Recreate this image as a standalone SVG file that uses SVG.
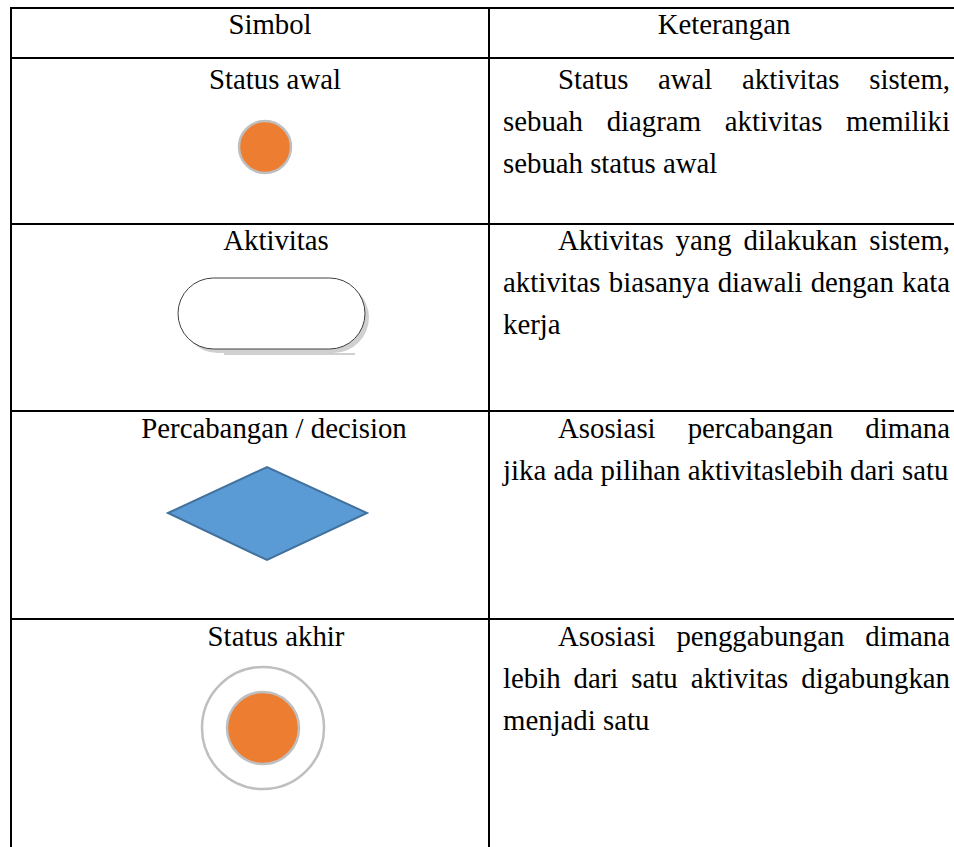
<svg xmlns="http://www.w3.org/2000/svg" width="954" height="847" viewBox="0 0 954 847">
  <style>
    .t { font-family: "Liberation Serif", "Times New Roman", serif; font-size: 28.8px; fill: #000; }
    .c { text-anchor: middle; }
    .e { text-anchor: end; }
    .grid { stroke: #000; stroke-width: 2; fill: none; }
  </style>
  <rect x="0" y="0" width="954" height="847" fill="#fff"/>

  <!-- table grid -->
  <g id="grid" class="grid">
    <line x1="10" y1="8" x2="954" y2="8"/>
    <line x1="10" y1="58" x2="954" y2="58"/>
    <line x1="10" y1="224" x2="954" y2="224"/>
    <line x1="10" y1="411" x2="954" y2="411"/>
    <line x1="10" y1="619" x2="954" y2="619"/>
    <line x1="11" y1="7" x2="11" y2="847"/>
    <line x1="489" y1="7" x2="489" y2="847"/>
  </g>

  <!-- header -->
  <g id="header">
    <text class="t c" x="270" y="34">Simbol</text>
    <text class="t c" x="724" y="34">Keterangan</text>
  </g>

  <!-- initial state -->
  <g id="status-awal">
    <text class="t c" x="275" y="89">Status awal</text>
    <circle cx="265" cy="147" r="26" fill="#ED7D31" stroke="#BFBFBF" stroke-width="2.5"/>
  </g>
  <g id="status-awal-desc" class="t">
    <text x="558" y="89">Status</text>
    <text x="658" y="89">awal</text>
    <text x="742" y="89">aktivitas</text>
    <text class="e" x="950" y="89">sistem,</text>
    <text x="503" y="131">sebuah</text>
    <text x="606.7" y="131">diagram</text>
    <text x="724.8" y="131">aktivitas</text>
    <text class="e" x="950" y="131">memiliki</text>
    <text x="503" y="173">sebuah status awal</text>
  </g>

  <!-- activity (rounded box with soft drop shadow) -->
  <g id="aktivitas">
    <text class="t c" x="276" y="250">Aktivitas</text>
    <rect x="182" y="282" width="187" height="71" rx="35.5" fill="#D0D0D0"/>
    <line x1="224" y1="354" x2="355" y2="354" stroke="#D0D0D0" stroke-width="2"/>
    <rect x="178" y="278" width="187" height="71" rx="35.5" fill="#fff" stroke="#404040" stroke-width="1"/>
  </g>
  <g id="aktivitas-desc" class="t">
    <text x="558" y="250">Aktivitas</text>
    <text x="675.6" y="250">yang</text>
    <text x="743.6" y="250">dilakukan</text>
    <text class="e" x="950" y="250">sistem,</text>
    <text x="503" y="292">aktivitas</text>
    <text x="608.75" y="292">biasanya</text>
    <text x="717.7" y="292">diawali</text>
    <text x="810.65" y="292">dengan</text>
    <text class="e" x="950" y="292">kata</text>
    <text x="503" y="334">kerja</text>
  </g>

  <!-- decision -->
  <g id="decision">
    <text class="t c" x="274" y="438">Percabangan / decision</text>
    <polygon points="168,513 267,467 367,513 267,560" fill="#5B9BD5" stroke="#41719C" stroke-width="2"/>
  </g>
  <g id="decision-desc" class="t">
    <text x="558" y="438">Asosiasi</text>
    <text x="687.65" y="438">percabangan</text>
    <text class="e" x="950" y="438">dimana</text>
    <text x="503" y="480">jika ada pilihan aktivitaslebih dari satu</text>
  </g>

  <!-- final state -->
  <g id="status-akhir">
    <text class="t c" x="276" y="646">Status akhir</text>
    <circle cx="263" cy="728" r="61" fill="none" stroke="#BFBFBF" stroke-width="2.5"/>
    <circle cx="263" cy="728" r="36" fill="#ED7D31" stroke="#BFBFBF" stroke-width="2.5"/>
  </g>
  <g id="status-akhir-desc" class="t">
    <text x="558" y="646">Asosiasi</text>
    <text x="676.4" y="646">penggabungan</text>
    <text class="e" x="950" y="646">dimana</text>
    <text x="503" y="688">lebih</text>
    <text x="573.55" y="688">dari</text>
    <text x="631.3" y="688">satu</text>
    <text x="690.65" y="688">aktivitas</text>
    <text class="e" x="950" y="688">digabungkan</text>
    <text x="503" y="730">menjadi satu</text>
  </g>
</svg>
